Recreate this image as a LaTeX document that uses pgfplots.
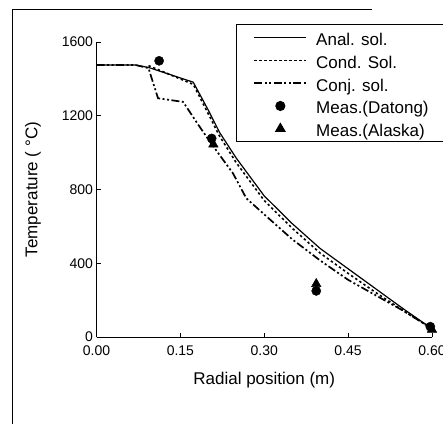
\documentclass[border=0pt]{standalone}
\usepackage{fontspec}
\setmainfont{Liberation Sans}
\usepackage{pgfplots}
\pgfplotsset{compat=1.18}
\newcommand\ls{\rule[-5.9bp]{0pt}{23.2bp}}

\begin{document}
\begin{tikzpicture}
% broken frame of the scanned figure
\draw[line width=0.9bp] (12bp,415bp) -- (372bp,415bp);
\draw[line width=0.7bp] (12bp,415bp) -- (12bp,0bp);
\begin{axis}[
  scale only axis,
  width=335.5bp, height=295bp,
  at={(96.5bp,87bp)}, anchor=south west,
  xmin=0, xmax=0.6, ymin=0, ymax=1600,
  axis x line=bottom, axis y line=left,
  axis line style={-, line width=0.9bp},
  tick align=inside, major tick length=4bp,
  tick style={line width=0.8bp, black},
  xtick={0,0.15,0.30,0.45,0.60},
  ytick={0,400,800,1200,1600},
  tick label style={font=\fontsize{14bp}{16bp}\selectfont},
  /pgf/number format/assume math mode=true,
  xticklabel style={yshift=-5.5bp, /pgf/number format/.cd,fixed,fixed zerofill,precision=2},
  yticklabel style={/pgf/number format/1000 sep={}},
  xlabel={Radial position (m)},
  ylabel={Temperature ( °C)},
  label style={font=\fontsize{17bp}{20bp}\selectfont},
  xlabel style={at={(axis description cs:0.5,-0.146)}, anchor=center},
  ylabel style={at={(axis description cs:-0.189,0.5)}, anchor=center},
  legend image code/.code={\draw[#1,mark repeat=2,mark phase=2] plot coordinates {(0bp,0bp) (26bp,0bp) (52bp,0bp)};
    \path (59bp,0bp);},
  legend cell align=left,
  legend style={at={(0.416,1.061)}, anchor=north west,
    draw=black, line width=0.9bp, inner xsep=17bp, inner ysep=1.8bp,
    font=\fontsize{17bp}{19bp}\selectfont},
]
\addplot[black, line width=1.2bp] coordinates {
  (0,1475) (0.07,1475) (0.093,1462) (0.173,1382) (0.20,1230) (0.22,1110)
  (0.25,970) (0.30,765) (0.35,615) (0.40,480) (0.45,370) (0.50,260)
  (0.55,150) (0.60,45)};
\addlegendentry{\ls Anal. sol.}
\addplot[black, line width=1.6bp, dash pattern=on 2.4bp off 2.6bp] coordinates {
  (0.093,1472) (0.173,1370) (0.20,1210) (0.22,1090) (0.25,945) (0.30,740)
  (0.35,590) (0.40,455) (0.45,345) (0.50,240) (0.55,140) (0.60,45)};
\addlegendentry{\ls Cond. Sol.}
\addplot[black, line width=1.7bp, dash pattern=on 8bp off 2.5bp on 2bp off 2.5bp on 2bp off 2.5bp] coordinates {
  (0,1475) (0.07,1475) (0.093,1458) (0.110,1295) (0.155,1275) (0.18,1160)
  (0.205,1050) (0.244,888) (0.268,752) (0.30,665) (0.35,530) (0.40,415)
  (0.45,310) (0.50,225) (0.55,140) (0.60,45)};
\addlegendentry{\ls Conj. sol.}
\addplot[only marks, mark=*, mark size=4.6bp, black] coordinates {
  (0.112,1498) (0.206,1077) (0.393,250) (0.597,56)};
\addlegendentry{\ls Meas.(Datong)}
\addplot[only marks, mark=triangle*, mark size=5.5bp, black] coordinates {
  (0.209,1045) (0.393,288) (0.600,40)};
\addlegendentry{\ls Meas.(Alaska)\hspace{30bp}}
\end{axis}
\pgfresetboundingbox
\useasboundingbox (0,0) rectangle (443bp,424bp);
\end{tikzpicture}
\end{document}
